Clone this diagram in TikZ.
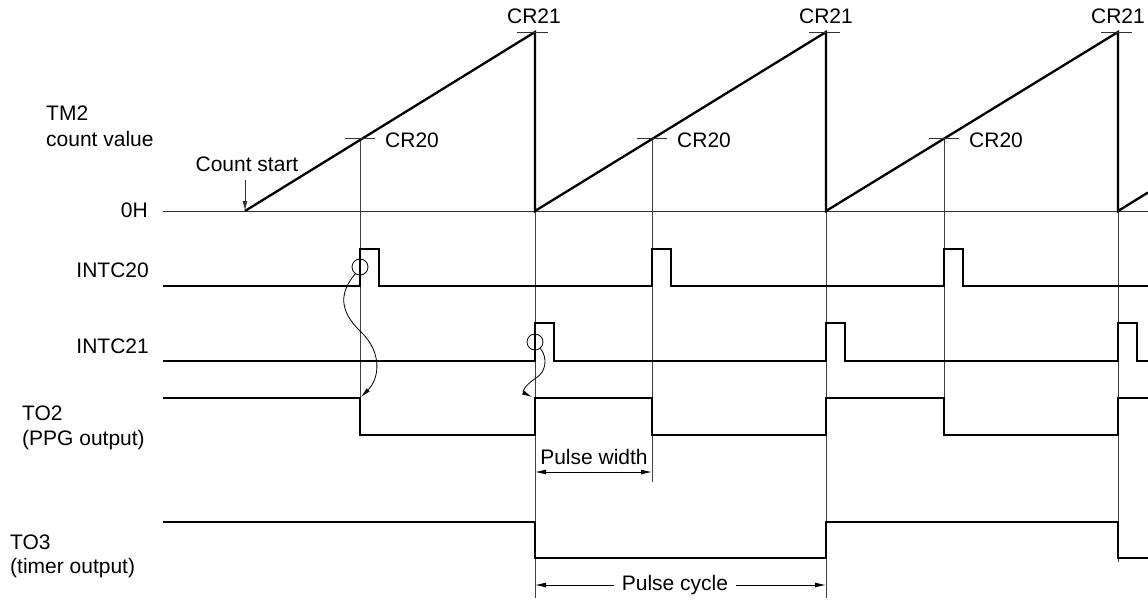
\documentclass[tikz,border=0pt]{standalone}
\usepackage{fontspec}
\setmainfont{Liberation Sans}
\usetikzlibrary{arrows.meta}
\begin{document}
\begin{tikzpicture}[x=1pt,y=-1pt,
  lbl/.style={inner sep=0pt,font=\fontsize{21}{25}\selectfont},
  sig/.style={line width=2.3pt,line join=miter},
  thin/.style={line width=0.9pt,black!80},
  guide/.style={line width=0.8pt,black!75},
  tip/.style={-{Latex[length=10pt,width=5pt]}},
  dim/.style={line width=0.9pt,{Latex[length=11pt,width=5pt]}-{Latex[length=11pt,width=5pt]}},
  curv/.style={line width=0.8pt,-{Latex[length=10pt,width=4.5pt]}},
  ring/.style={circle,draw,line width=0.8pt,minimum size=16pt,inner sep=0pt}]
\useasboundingbox (0,0) rectangle (1148,600);

% ---- labels on the left
\node[lbl,anchor=west] (tm2a) at (46,113) {TM2};
\node[lbl,anchor=west] (tm2b) at (46,139) {count value};
\node[lbl,anchor=east] (zh) at (148,210) {0H};
\node[lbl,anchor=east] (i20) at (149,270) {INTC20};
\node[lbl,anchor=east] (i21) at (149,346) {INTC21};
\node[lbl,anchor=west] (to2a) at (22,413) {TO2};
\node[lbl,anchor=west] (to2b) at (22,440) {(PPG output)};
\node[lbl,anchor=west] (to3a) at (10,542) {TO3};
\node[lbl,anchor=west] (to3b) at (10,568) {(timer output)};

% ---- guide lines (thin verticals)
\draw[guide] (360,138) -- (360,435);
\draw[guide] (652,138) -- (652,482);
\draw[guide] (944,138) -- (944,435);
\draw[guide] (535,32) -- (535,598);
\draw[guide] (826,32) -- (826,598);
\draw[guide] (1118,32) -- (1118,562);

% ---- 0H line
\draw[thin] (163,211) -- (1148,211);

% ---- count ramp
\draw[sig] (245,211) -- (535,32) -- (535,211) -- (826,32) -- (826,211) -- (1118,32) -- (1118,211) -- (1148,192.5);

% ---- CR21 marks
\foreach \x/\n in {534/a,826/b,1118/c}{
  \draw[thin] (\x-17,32) -- (\x+14,32);
  \node[lbl] (cr21\n) at (\x,16) {CR21};
}
% ---- CR20 marks
\foreach \x/\n in {360/a,652/b,944/c}{
  \draw[thin] (\x-15,138) -- (\x+15,138);
  \node[lbl,anchor=west] (cr20\n) at (\x+25,140) {CR20};
}

% ---- count start
\node[lbl] (cs) at (247,164) {Count start};
\coordinate (csend) at (245,211);
\draw[thin,tip] (245,180) -- (csend);

% ---- INTC20
\draw[sig] (163,286) -- (360,286) -- (360,249) -- (379,249) -- (379,286)
  -- (652,286) -- (652,249) -- (671,249) -- (671,286)
  -- (944,286) -- (944,249) -- (963,249) -- (963,286) -- (1148,286);

% ---- INTC21
\draw[sig] (163,361) -- (535,361) -- (535,323) -- (554,323) -- (554,361)
  -- (826,361) -- (826,323) -- (845,323) -- (845,361)
  -- (1118,361) -- (1118,323) -- (1137,323) -- (1137,361) -- (1148,361);

% ---- TO2
\draw[sig] (163,398) -- (360,398) -- (360,435) -- (535,435) -- (535,398)
  -- (652,398) -- (652,435) -- (826,435) -- (826,398)
  -- (944,398) -- (944,435) -- (1118,435) -- (1118,398) -- (1148,398);

% ---- TO3
\draw[sig] (163,522) -- (535,522) -- (535,558) -- (826,558) -- (826,522)
  -- (1118,522) -- (1118,558) -- (1148,558);

% ---- causal arrows
\node[ring] (c1) at (360,267) {};
\node[ring] (c2) at (535,342) {};
\coordinate (t1) at (361,397);
\coordinate (t2) at (532,397);
\draw[curv] (c1.235) .. controls (340,292) and (338,310) .. (361,332)
  .. controls (382,352) and (380,378) .. (t1);
\draw[curv] (c2.-50) .. controls (548,358) and (546,372) .. (536,378)
  .. controls (524,386) and (522,392) .. (t2);

% ---- pulse width
\coordinate (pwl) at (535,472);
\coordinate (pwr) at (652,472);
\draw[dim] (pwl) -- (pwr);
\node[lbl] (pw) at (594,457) {Pulse width};

% ---- pulse cycle
\coordinate (pcl) at (535,585);
\coordinate (pcr) at (826,585);
\node[lbl,fill=white,inner xsep=8pt] (pc) at (675,585) {Pulse cycle};
\draw[line width=0.9pt,-{Latex[length=11pt,width=5pt]}] (pc.west) -- (pcl);
\draw[line width=0.9pt,-{Latex[length=11pt,width=5pt]}] (pc.east) -- (pcr);
\end{tikzpicture}
\end{document}
